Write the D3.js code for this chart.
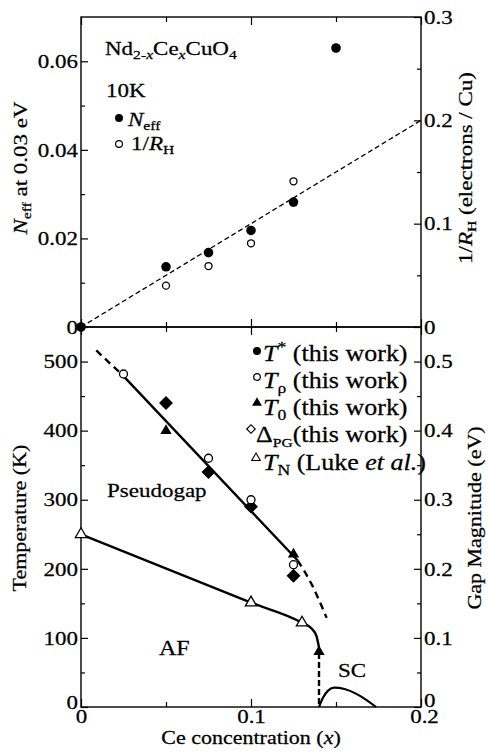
<!DOCTYPE html>
<html>
<head>
<meta charset="utf-8">
<script src="https://cdn.jsdelivr.net/npm/d3@7"></script>
<style>
  body { margin: 0; background: #fff; }
  text { font-family: "Liberation Serif", "DejaVu Serif", serif; fill: #000; stroke: #000; stroke-width: 0.3px; }
</style>
</head>
<body>
<div id="mainbox"></div>
<script>
// ---- top panel: Neff and 1/RH at 10K
const xNeff = [0, 0.05, 0.075, 0.1, 0.125, 0.15];
const neff = [0, 0.0136, 0.0168, 0.0218, 0.0282, 0.063];
const xHall = [0.05, 0.075, 0.1, 0.125];
const invRH = [0.040, 0.059, 0.081, 0.141];   // electrons / Cu (right axis)
const fitX = [0, 0.2];
const fitY = [0, 0.2];

// ---- bottom panel: phase diagram
const xTstar = [0.05, 0.075, 0.1, 0.125];
const tStar = [440, 340, 290, 190];
const gapPG = [0.44, 0.34, 0.29, 0.19];        // eV (right axis)
const xTrho = [0.025, 0.075, 0.1, 0.125];
const tRho = [482, 360, 300, 206];
const xT0 = [0.05, 0.125, 0.14];
const t0 = [400, 221, 80];
const xTN = [0, 0.1, 0.13];
const tN = [250, 151, 122];

const pgSolidX = [0.025, 0.1275];
const pgSolidT = [479, 212];
const pgDashHiX = [0.009, 0.025];
const pgDashHiT = [516, 479];
const pgDashLoX = [0.1275, 0.136, 0.1445];
const pgDashLoT = [212, 176, 129];
const afX = [0, 0.1, 0.13, 0.1355, 0.1385, 0.14];
const afT = [250, 151, 122, 114, 103, 86];
const afDropX = [0.14, 0.14];
const afDropT = [78, 0];
const scX = [0.14, 0.1425, 0.1455, 0.149, 0.155, 0.162, 0.168, 0.1735];
const scT = [0, 14, 24, 28, 26, 19, 10, 0];

// ticks
const xMajor = [0, 0.1, 0.2];
const xMinor = [0.05, 0.15];
const yTopL = [0, 0.02, 0.04, 0.06];
const yTopLMinor = [0.01, 0.03, 0.05];
const yTopR = [0, 0.1, 0.2, 0.3];
const yTopRMinor = [0.05, 0.15, 0.25];
const yBotL = [0, 100, 200, 300, 400, 500];
const yBotLMinor = [50, 150, 250, 350, 450];
const yBotR = [0, 0.1, 0.2, 0.3, 0.4, 0.5];
const yBotRMinor = [0.05, 0.15, 0.25, 0.35, 0.45];

const W = 488, H = 753;
const L = 81, R = 421, T1 = 17, M = 327, B = 707;
const FONT = '"Liberation Serif", "DejaVu Serif", serif';
const SQ = 0.85;   // the printed type is wide and low

const svg = d3.select('#mainbox').append('svg')
  .attr('width', W).attr('height', H);

const x = d3.scaleLinear().domain([0, 0.2]).range([L, R]);
const yNeff = d3.scaleLinear().domain([0, 0.07]).range([M, T1]);
const yRH = d3.scaleLinear().domain([0, 0.3]).range([M, T1]);
const yT = d3.scaleLinear().domain([0, 550]).range([B, M]);
const yGap = d3.scaleLinear().domain([0, 0.55]).range([B, M]);

const fmt = d => d === 0 ? '0' : String(d);

function axis(gen, scale, vals, size, labels, tr) {
  const a = gen(scale).tickValues(vals).tickSize(size).tickPadding(3)
    .tickFormat(labels ? fmt : '');
  const g = svg.append('g').attr('transform', tr).call(a);
  g.select('.domain').remove();
  g.selectAll('line').attr('stroke', '#000').attr('stroke-width', 1.2);
  g.selectAll('text').style('font-family', FONT).style('font-size', '23px')
    .attr('transform', `scale(1,${SQ})`);
  return g;
}

// x ticks on the three horizontal edges
axis(d3.axisTop, x, xMajor, -8, false, `translate(0,${T1})`);
axis(d3.axisTop, x, xMinor, -5, false, `translate(0,${T1})`);
axis(d3.axisBottom, x, xMajor, -8, false, `translate(0,${M})`);
axis(d3.axisBottom, x, xMinor, -5, false, `translate(0,${M})`);
axis(d3.axisTop, x, xMajor, -8, false, `translate(0,${M})`);
axis(d3.axisTop, x, xMinor, -5, false, `translate(0,${M})`);
axis(d3.axisBottom, x, xMajor, -8, true, `translate(0,${B})`).selectAll('text').attr('y', 2)
  .attr('x', d => d === 0.2 ? 3 : 0);
axis(d3.axisBottom, x, xMinor, -5, false, `translate(0,${B})`);

// y ticks
axis(d3.axisLeft, yNeff, yTopL, -7, true, `translate(${L},0)`);
axis(d3.axisLeft, yNeff, yTopLMinor, -4, false, `translate(${L},0)`);
axis(d3.axisRight, yRH, yTopR, -7, true, `translate(${R},0)`);
axis(d3.axisRight, yRH, yTopRMinor, -4, false, `translate(${R},0)`);
axis(d3.axisLeft, yT, yBotL, -7, true, `translate(${L},0)`)
  .selectAll('text').attr('y', d => d === 0 ? -6 : 0);
axis(d3.axisLeft, yT, yBotLMinor, -4, false, `translate(${L},0)`);
axis(d3.axisRight, yGap, yBotR, -7, true, `translate(${R},0)`)
  .selectAll('text').attr('y', d => d === 0 ? -8 : 0);
axis(d3.axisRight, yGap, yBotRMinor, -4, false, `translate(${R},0)`);

// frames
svg.append('rect').attr('x', L).attr('y', T1).attr('width', R - L).attr('height', M - T1)
  .attr('fill', 'none').attr('stroke', '#000').attr('stroke-width', 1.4);
svg.append('rect').attr('x', L).attr('y', M).attr('width', R - L).attr('height', B - M)
  .attr('fill', 'none').attr('stroke', '#000').attr('stroke-width', 1.4);

// rich text helper: parts = [{t, i, sub, sup}]
function rich(g, parts, size) {
  let shift = 0;
  parts.forEach(p => {
    const fs = (p.sub || p.sup) ? size * (p.s || 0.68) : size;
    const target = p.sub ? size * 0.22 : p.sup ? -size * 0.42 : 0;
    g.append('tspan')
      .attr('dy', target - shift)
      .style('font-size', fs + 'px')
      .style('font-style', p.i ? 'italic' : 'normal')
      .text(p.t);
    shift = target;
  });
  return g;
}
function label(px, py, parts, size, opts = {}) {
  const t = svg.append('text')
    .attr('text-anchor', opts.anchor || 'start')
    .style('font-size', size + 'px')
    .attr('transform', `translate(${px},${py})${opts.rot ? ' rotate(-90)' : ''} scale(1,${SQ})`);
  return rich(t, parts, size);
}

// ---- top panel marks
const lineXY = (xs, ys, sy, curve) => d3.line()
  .x(i => x(xs[i])).y(i => sy(ys[i])).curve(curve || d3.curveLinear)(d3.range(xs.length));

svg.append('path').attr('d', lineXY(fitX, fitY, yRH))
  .attr('fill', 'none').attr('stroke', '#000').attr('stroke-width', 1.3)
  .attr('stroke-dasharray', '5,3');

svg.append('g').selectAll('circle').data(d3.range(xHall.length)).join('circle')
  .attr('cx', i => x(xHall[i])).attr('cy', i => yRH(invRH[i])).attr('r', 3.5)
  .attr('fill', '#fff').attr('stroke', '#000').attr('stroke-width', 1.3);

svg.append('g').selectAll('circle').data(d3.range(xNeff.length)).join('circle')
  .attr('cx', i => x(xNeff[i])).attr('cy', i => yNeff(neff[i])).attr('r', 4.8)
  .attr('fill', '#000');

// top legend
label(105, 55, [{t: 'Nd'}, {t: '2-', sub: 1}, {t: 'x', sub: 1, i: 1}, {t: 'Ce'},
  {t: 'x', sub: 1, i: 1}, {t: 'CuO'}, {t: '4', sub: 1}], 23);
label(106, 97, [{t: '10K'}], 23);
svg.append('circle').attr('cx', 119).attr('cy', 118).attr('r', 4).attr('fill', '#000');
label(128, 126, [{t: 'N', i: 1}, {t: 'eff', sub: 1}], 23);
svg.append('circle').attr('cx', 119).attr('cy', 144).attr('r', 3.4)
  .attr('fill', '#fff').attr('stroke', '#000').attr('stroke-width', 1.2);
label(131, 150, [{t: '1/'}, {t: 'R', i: 1}, {t: 'H', sub: 1}], 23);

// axis titles
label(27, 168, [{t: 'N', i: 1}, {t: 'eff', sub: 1}, {t: ' at 0.03 eV'}], 23, {anchor: 'middle', rot: 1});
label(472, 168, [{t: '1/'}, {t: 'R', i: 1}, {t: 'H', sub: 1}, {t: ' (electrons / Cu)'}], 23, {anchor: 'middle', rot: 1});
label(26, 518, [{t: 'Temperature (K)'}], 22, {anchor: 'middle', rot: 1});
label(481, 518, [{t: 'Gap Magnitude (eV)'}], 22, {anchor: 'middle', rot: 1});
label(251, 744, [{t: 'Ce concentration ('}, {t: 'x', i: 1}, {t: ')'}], 22, {anchor: 'middle'});

// ---- bottom panel lines
const solid = (d, w) => svg.append('path').attr('d', d).attr('fill', 'none')
  .attr('stroke', '#000').attr('stroke-width', w || 2.4);
solid(lineXY(pgSolidX, pgSolidT, yT));
solid(lineXY(pgDashHiX, pgDashHiT, yT)).attr('stroke-dasharray', '7,5');
solid(lineXY(pgDashLoX, pgDashLoT, yT, d3.curveMonotoneX)).attr('stroke-dasharray', '7,5');
solid(lineXY(afX, afT, yT, d3.curveMonotoneX));
solid(lineXY(afDropX, afDropT, yT)).attr('stroke-dasharray', '6,3');
solid(lineXY(scX, scT, yT, d3.curveMonotoneX), 2.2);

// ---- bottom panel markers
const sym = (type, size) => d3.symbol().type(type).size(size)();
svg.append('g').selectAll('circle').data(d3.range(xTstar.length)).join('circle')
  .attr('cx', i => x(xTstar[i])).attr('cy', i => yT(tStar[i])).attr('r', 4.5)
  .attr('fill', '#000');
svg.append('g').selectAll('path').data(d3.range(xTstar.length)).join('path')
  .attr('d', sym(d3.symbolSquare, 78))
  .attr('transform', i => `translate(${x(xTstar[i])},${yGap(gapPG[i])}) rotate(45)`)
  .attr('fill', '#000').attr('stroke', '#000').attr('stroke-width', 1);
svg.append('g').selectAll('circle').data(d3.range(xTrho.length)).join('circle')
  .attr('cx', i => x(xTrho[i])).attr('cy', i => yT(tRho[i])).attr('r', 4)
  .attr('fill', '#fff').attr('stroke', '#000').attr('stroke-width', 1.3);
svg.append('g').selectAll('path').data(d3.range(xT0.length)).join('path')
  .attr('d', sym(d3.symbolTriangle, 55))
  .attr('transform', i => `translate(${x(xT0[i])},${yT(t0[i])})`)
  .attr('fill', '#000');
svg.append('g').selectAll('path').data(d3.range(xTN.length)).join('path')
  .attr('d', sym(d3.symbolTriangle, 55))
  .attr('transform', i => `translate(${x(xTN[i])},${yT(tN[i])})`)
  .attr('fill', '#fff').attr('stroke', '#000').attr('stroke-width', 1.3);

// region labels
label(107, 497, [{t: 'Pseudogap'}], 23);
label(159, 655, [{t: 'AF'}], 24);
label(338, 677, [{t: 'SC'}], 23);

// bottom legend
const lx = 263;
svg.append('circle').attr('cx', 257).attr('cy', 351).attr('r', 4).attr('fill', '#000');
label(lx, 361, [{t: 'T', i: 1}, {t: '*', sup: 1}, {t: ' (this work)'}], 26);
svg.append('circle').attr('cx', 257).attr('cy', 377).attr('r', 3.3)
  .attr('fill', '#fff').attr('stroke', '#000').attr('stroke-width', 1.2);
label(lx, 388, [{t: 'T', i: 1}, {t: 'ρ', sub: 1}, {t: ' (this work)'}], 26);
svg.append('path').attr('d', sym(d3.symbolTriangle, 42)).attr('transform', 'translate(257,403)')
  .attr('fill', '#000');
label(lx, 415, [{t: 'T', i: 1}, {t: '0', sub: 1}, {t: ' (this work)'}], 26);
svg.append('path').attr('d', sym(d3.symbolSquare, 36)).attr('transform', 'translate(251,429) rotate(45)')
  .attr('fill', '#fff').attr('stroke', '#000').attr('stroke-width', 1.2);
label(256, 442, [{t: 'Δ'}, {t: 'PG', sub: 1, s: 0.6}, {t: '(this work)'}], 26);
svg.append('path').attr('d', sym(d3.symbolTriangle, 32)).attr('transform', 'translate(256,458)')
  .attr('fill', '#fff').attr('stroke', '#000').attr('stroke-width', 1.1);
label(lx, 470, [{t: 'T', i: 1}, {t: 'N', sub: 1}, {t: ' (Luke '}, {t: 'et al.', i: 1}, {t: ')'}], 26);
</script>
</body>
</html>
